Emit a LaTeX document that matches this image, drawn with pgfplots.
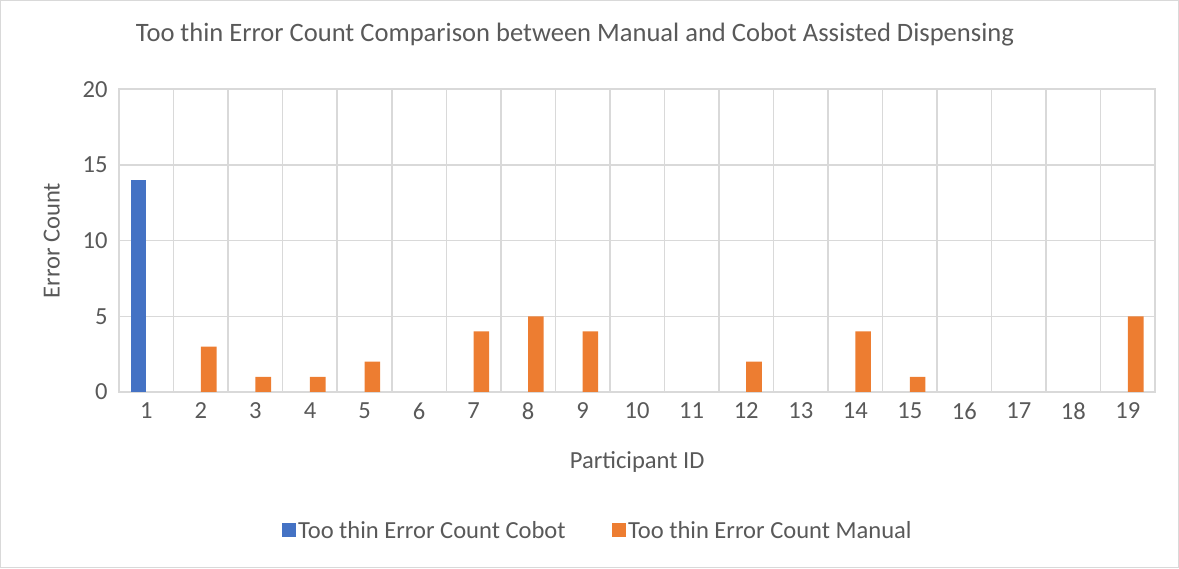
\documentclass[border=0pt]{standalone}
\usepackage{pgfplots}
\pgfplotsset{compat=1.18}
\usepackage{fontspec}
\setmainfont{Carlito}

\definecolor{cobot}{HTML}{4472C4}
\definecolor{manual}{HTML}{ED7D31}
\definecolor{gridc}{HTML}{D9D9D9}
\definecolor{txt}{HTML}{595959}

\pgfplotstableread{
id cobot manual
1  14 0
2  0  3
3  0  1
4  0  1
5  0  2
6  0  0
7  0  4
8  0  5
9  0  4
10 0  0
11 0  0
12 0  2
13 0  0
14 0  4
15 0  1
16 0  0
17 0  0
18 0  0
19 0  5
}\errdata

\begin{document}
\begin{tikzpicture}
\begin{axis}[
    scale only axis,
    width=1030bp, height=301bp,
    ybar=0pt, bar width=15.5bp,
    xmin=0.5, xmax=19.5,
    ymin=0, ymax=20,
    xtick={1,...,19},
    minor xtick={1.5,2.5,...,18.5},
    ytick={0,5,10,15,20},
    major tick length=0pt, minor tick length=0pt,
    ymajorgrids=true, xminorgrids=true,
    grid style={draw=gridc, line width=1.5bp},
    minor grid style={draw=gridc, line width=1.5bp},
    axis line style={draw=gridc, line width=1.5bp},
    font=\fontsize{24.5}{29}\selectfont,
    tick label style={text=txt, font=\fontsize{24.5}{29}\selectfont},
    /pgf/number format/assume math mode=true,
    yticklabel style={xshift=-8bp},
    xticklabel style={yshift=-7bp},
    xlabel={Participant ID},
    ylabel={Error Count},
    label style={text=txt},
    xlabel style={at={(axis description cs:0.5,-0.232)}, anchor=center},
    ylabel style={at={(axis description cs:-0.065,0.5)}, anchor=center},
    clip=false,
    unbounded coords=discard,
    y filter/.expression={y==0 ? nan : y},
    legend columns=2,
    legend style={at={(axis description cs:0.462,-0.458)}, anchor=center,
      draw=none, fill=none, text=txt, font=\fontsize{24.5}{29}\selectfont,
      /tikz/every even column/.append style={column sep=44bp},
      nodes={inner xsep=2bp},
      inner sep=0pt},
    legend image code/.code={\fill[#1] (0bp,-6bp) rectangle (14bp,8bp);},
]
\addplot[fill=cobot, draw=none] table[x=id, y=cobot] {\errdata};
\addlegendentry{Too thin Error Count Cobot}
\addplot[fill=manual, draw=none] table[x=id, y=manual] {\errdata};
\addlegendentry{Too thin Error Count Manual}
\node[text=txt, font=\fontsize{26.5}{31}\selectfont, anchor=center]
  at (axis description cs:0.44,1.179) {Too thin Error Count Comparison between Manual and Cobot Assisted Dispensing};
\draw[gridc, line width=1bp] (axis description cs:-0.1145,-0.58) rectangle (axis description cs:1.0225,1.293);
\end{axis}
\end{tikzpicture}
\end{document}
